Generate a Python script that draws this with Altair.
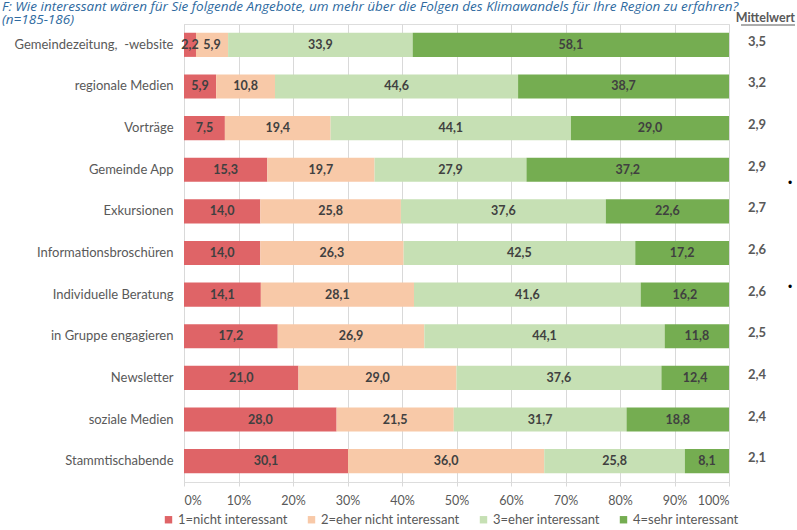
import altair as alt
import pandas as pd

categories = ["Gemeindezeitung,\u00a0 -website", "regionale Medien", "Vorträge", "Gemeinde App",
              "Exkursionen", "Informationsbroschüren", "Individuelle Beratung",
              "in Gruppe engagieren", "Newsletter", "soziale Medien", "Stammtischabende"]
v1 = [2.2, 5.9, 7.5, 15.3, 14.0, 14.0, 14.1, 17.2, 21.0, 28.0, 30.1]
v2 = [5.9, 10.8, 19.4, 19.7, 25.8, 26.3, 28.1, 26.9, 29.0, 21.5, 36.0]
v3 = [33.9, 44.6, 44.1, 27.9, 37.6, 42.5, 41.6, 44.1, 37.6, 31.7, 25.8]
v4 = [58.1, 38.7, 29.0, 37.2, 22.6, 17.2, 16.2, 11.8, 12.4, 18.8, 8.1]
means = ["3,5", "3,2", "2,9", "2,9", "2,7", "2,6", "2,6", "2,5", "2,4", "2,4", "2,1"]
levels = ["1=nicht interessant", "2=eher nicht interessant", "3=eher interessant", "4=sehr interessant"]
colors = ["#df6467", "#f8c9a8", "#c6e0b4", "#75ad51"]
title_line1 = "F: Wie interessant wären für Sie folgende Angebote, um mehr über die Folgen des Klimawandels für Ihre Region zu erfahren?"
title_line2 = "(n=185-186)"

FONT = "Lato"
TFONT = "Open Sans"
rows = []
for i, cat in enumerate(categories):
    vals = [v1[i], v2[i], v3[i], v4[i]]
    total = sum(vals)
    cum = 0.0
    for j, v in enumerate(vals):
        start = cum / total
        cum += v
        end = cum / total
        rows.append({"cat": cat, "level": levels[j], "order": j, "start": start, "end": end,
                     "mid": (start + end) / 2, "label": f"{v:.1f}".replace(".", ",")})
df = pd.DataFrame(rows)
mdf = pd.DataFrame({"cat": categories, "mean": means})

W, H = 545, 458
yscale = alt.Scale(domain=categories, paddingInner=0.42, paddingOuter=0.21)
ysort = alt.Y("cat:N", sort=categories, scale=yscale)

base = alt.Chart(df)
bars = base.mark_bar().encode(
    x=alt.X("start:Q", scale=alt.Scale(domain=[0, 1], nice=False),
            axis=alt.Axis(format="%", values=[i / 10 for i in range(11)], title=None,
                          grid=True, gridColor="#d9d9d9", domain=False, ticks=True,
                          tickColor="#d9d9d9", tickSize=4, labelColor="#595959",
                          labelFontSize=12.5, labelFont=FONT, labelPadding=8)),
    x2="end:Q",
    y=alt.Y("cat:N", scale=yscale, sort=categories,
            axis=alt.Axis(title=None, domain=True, domainColor="#d9d9d9", ticks=False,
                          labelColor="#595959", labelFontSize=13, labelFont=FONT,
                          labelPadding=11, labelLimit=300)),
    color=alt.Color("level:N", scale=alt.Scale(domain=levels, range=colors),
                    legend=alt.Legend(title=None, orient="none", direction="horizontal",
                                      legendX=-22, legendY=489, symbolType="square",
                                      symbolSize=55, symbolStrokeWidth=0,
                                      labelFontSize=13, labelFont=FONT,
                                      labelColor="#595959", columnPadding=17,
                                      labelOffset=3)),
    order="order:O",
)
texts = base.mark_text(font=FONT, fontSize=12.5, fontWeight="bold", color="#404040").encode(
    x="mid:Q", y=ysort, text="label:N"
)
mean_text = alt.Chart(mdf).mark_text(font=FONT, fontSize=13, fontWeight="bold",
                                     color="#595959", dy=-3).encode(
    x=alt.value(573), y=ysort, text="mean:N"
)
head = pd.DataFrame({"t": ["Mittelwert"]})
header = alt.Chart(head).mark_text(font=FONT, fontSize=12.5, fontWeight="bold",
                                   color="#595959", align="right").encode(
    x=alt.value(611), y=alt.value(-6), text="t:N"
)
underline = alt.Chart(head).mark_rule(color="#595959", strokeWidth=1).encode(
    x=alt.value(557), x2=alt.value(611), y=alt.value(1)
)
t_df = pd.DataFrame({"t1": [title_line1], "t2": [title_line2]})
title1 = alt.Chart(t_df).mark_text(font=TFONT, fontSize=13.5, fontStyle="italic", color="#2e6aa0",
                                   align="left", baseline="alphabetic").encode(
    x=alt.value(-182), y=alt.value(-13), text="t1:N")
title2 = alt.Chart(t_df).mark_text(font=TFONT, fontSize=13.5, fontStyle="italic", color="#2e6aa0",
                                   align="left", baseline="alphabetic").encode(
    x=alt.value(-182), y=alt.value(0), text="t2:N")
dot_df = pd.DataFrame({"t": ["•"]})
dot1 = alt.Chart(dot_df).mark_text(fontSize=12, color="#000000").encode(
    x=alt.value(606), y=alt.value(159), text="t:N")
dot2 = alt.Chart(dot_df).mark_text(fontSize=12, color="#000000").encode(
    x=alt.value(606), y=alt.value(263), text="t:N")

chart = alt.layer(bars, texts, mean_text, header, underline, title1, title2, dot1, dot2).properties(
    width=W, height=H,
    autosize=alt.AutoSizeParams(type="none"),
    padding={"left": 184, "top": 24, "right": 68, "bottom": 48},
).configure_view(stroke=None).configure(background="white")

chart.save("out.html", embed_options={"renderer": "svg", "actions": False})
